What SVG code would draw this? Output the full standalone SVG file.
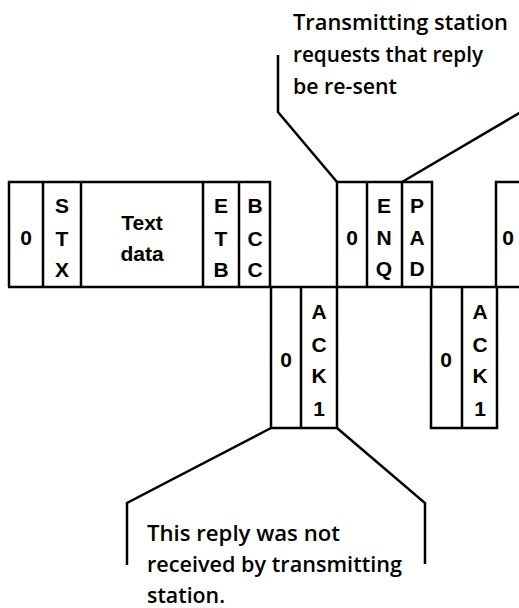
<svg xmlns="http://www.w3.org/2000/svg" width="519" height="608" viewBox="0 0 519 608">
<style>
.ln{fill:none;stroke:#000;stroke-width:2.5;stroke-linejoin:miter;stroke-linecap:butt}
.ch{font-family:"Liberation Sans",Arial,sans-serif;font-weight:bold;font-size:21px;fill:#000;text-anchor:middle}
.note{font-family:"Open Sans","Noto Sans",sans-serif;font-weight:600;font-size:21px;fill:#000}
</style>
<rect width="519" height="608" fill="#fff"/>
<g id="baseline">
<line class="ln" x1="8" y1="287" x2="519" y2="287"/>
</g>
<g id="frame1">
<polyline class="ln" points="9,287 9,182 270,182 270,287"/>
<line class="ln" x1="43" y1="182" x2="43" y2="287"/>
<line class="ln" x1="81" y1="182" x2="81" y2="287"/>
<line class="ln" x1="203" y1="182" x2="203" y2="287"/>
<line class="ln" x1="239" y1="182" x2="239" y2="287"/>
<text class="ch" x="26" y="245">0</text>
<text class="ch" x="62" y="213">S</text>
<text class="ch" x="62" y="246">T</text>
<text class="ch" x="62" y="277">X</text>
<text class="ch" x="142" y="230">Text</text>
<text class="ch" x="142" y="261">data</text>
<text class="ch" x="221" y="213">E</text>
<text class="ch" x="221" y="246">T</text>
<text class="ch" x="221" y="277">B</text>
<text class="ch" x="255" y="213">B</text>
<text class="ch" x="255" y="246">C</text>
<text class="ch" x="255" y="277">C</text>
</g>
<g id="ack1">
<polyline class="ln" points="271,287 271,428 337,428 337,287"/>
<line class="ln" x1="301" y1="287" x2="301" y2="428"/>
<text class="ch" x="286" y="367">0</text>
<text class="ch" x="319" y="319">A</text>
<text class="ch" x="319" y="352">C</text>
<text class="ch" x="319" y="383">K</text>
<text class="ch" x="319" y="416">1</text>
</g>
<g id="frame2">
<polyline class="ln" points="337,287 337,182 432,182 432,287"/>
<line class="ln" x1="367" y1="182" x2="367" y2="287"/>
<line class="ln" x1="402" y1="182" x2="402" y2="287"/>
<text class="ch" x="352" y="245">0</text>
<text class="ch" x="384" y="213">E</text>
<text class="ch" x="384" y="245">N</text>
<text class="ch" x="384" y="276">Q</text>
<text class="ch" x="417" y="213">P</text>
<text class="ch" x="417" y="245">A</text>
<text class="ch" x="417" y="276">D</text>
</g>
<g id="ack2">
<polyline class="ln" points="431,287 431,428 497,428 497,287"/>
<line class="ln" x1="462" y1="287" x2="462" y2="428"/>
<text class="ch" x="446" y="367">0</text>
<text class="ch" x="480" y="319">A</text>
<text class="ch" x="480" y="352">C</text>
<text class="ch" x="480" y="383">K</text>
<text class="ch" x="480" y="416">1</text>
</g>
<g id="frame3">
<polyline class="ln" points="496,287 496,182 520,182"/>
<text class="ch" x="508" y="245">0</text>
</g>
<g id="connectors">
<polyline class="ln" points="278,55 278,112 337,182"/>
<polyline class="ln" points="402,182 521,112"/>
<polyline class="ln" points="127,565 127,503 271,428"/>
<polyline class="ln" points="337,428 425,503 425,564"/>
</g>
<g id="note-top">
<text class="note" x="293" y="30" textLength="215" lengthAdjust="spacingAndGlyphs">Transmitting station</text>
<text class="note" x="293" y="62" textLength="190" lengthAdjust="spacingAndGlyphs">requests that reply</text>
<text class="note" x="293" y="94" textLength="104" lengthAdjust="spacingAndGlyphs">be re-sent</text>
</g>
<g id="note-bottom">
<text class="note" x="147" y="541" textLength="193" lengthAdjust="spacingAndGlyphs">This reply was not</text>
<text class="note" x="147" y="572" textLength="255" lengthAdjust="spacingAndGlyphs">received by transmitting</text>
<text class="note" x="147" y="603" textLength="78" lengthAdjust="spacingAndGlyphs">station.</text>
</g>
</svg>
